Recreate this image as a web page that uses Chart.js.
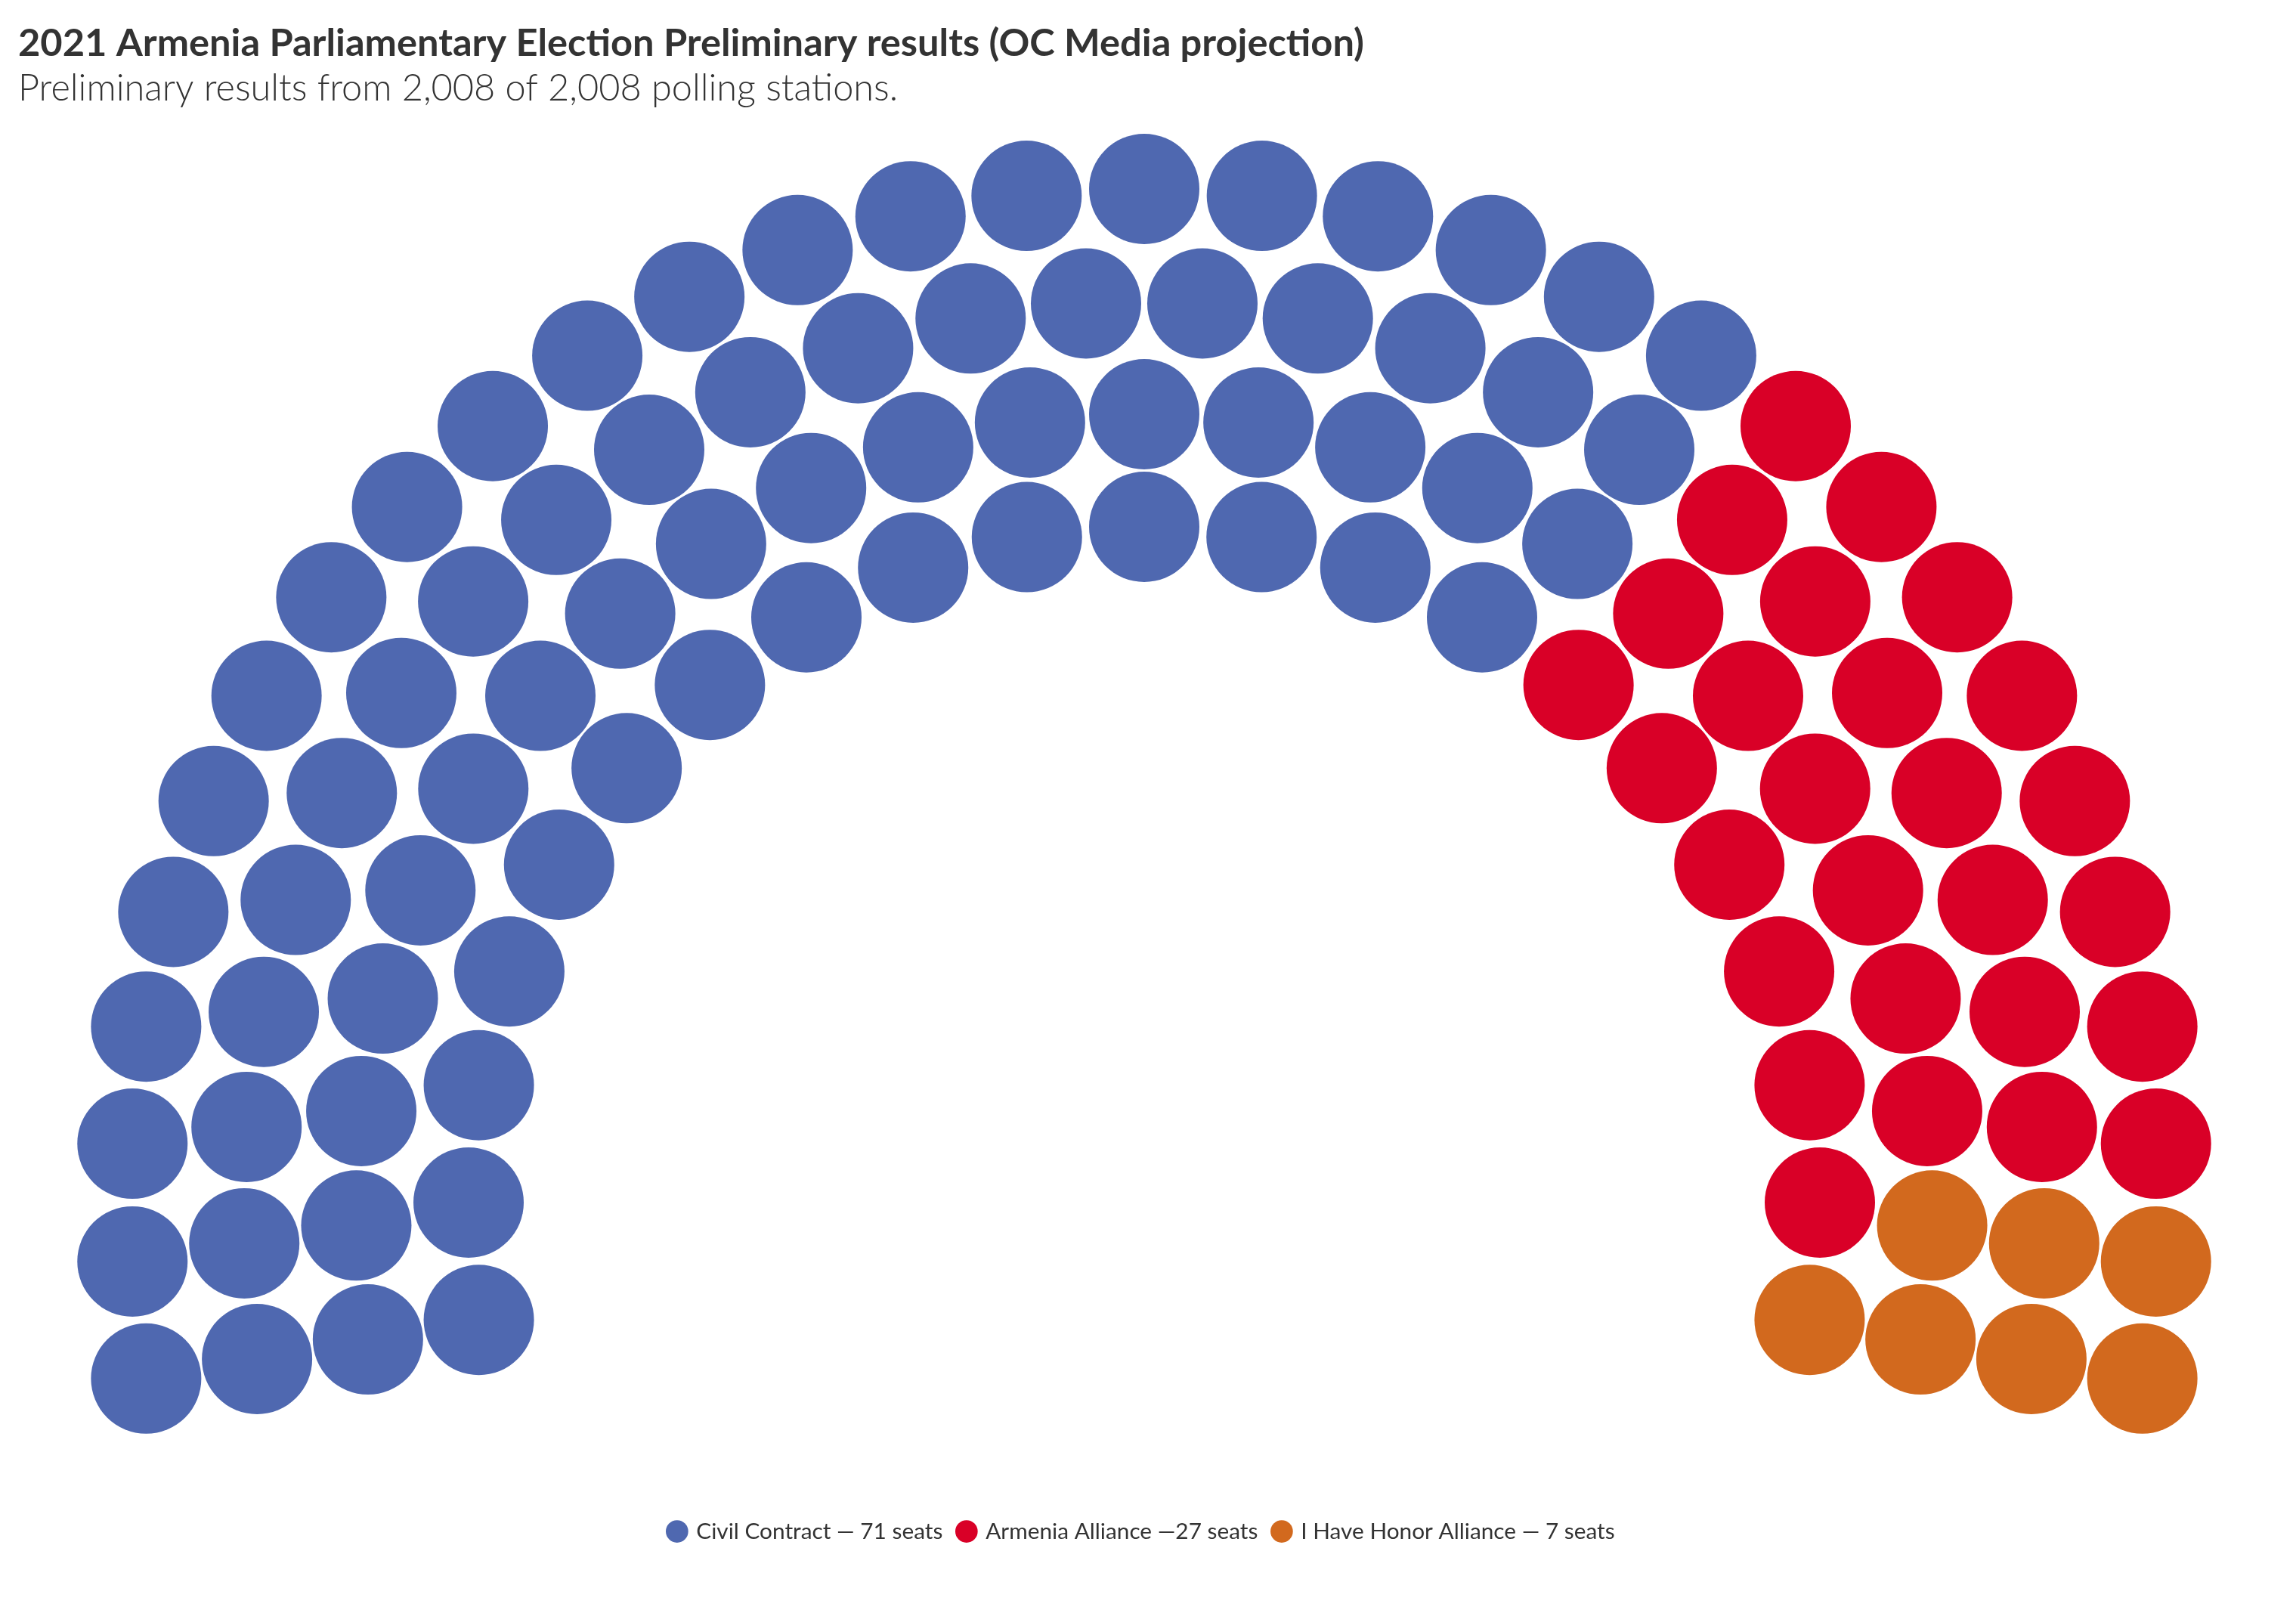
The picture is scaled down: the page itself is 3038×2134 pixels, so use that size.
<!DOCTYPE html>
<html lang="en">

<head>
    <meta charset="UTF-8">
    <title>2021 Armenia Parliamentary Election</title>
    <script src="https://cdn.jsdelivr.net/npm/chart.js"></script>
    <style>
        html, body { margin: 0; padding: 0; background: #fff; }
        .wrap { width: 100vw; height: 100vh; }
    </style>
</head>

<body>
    <div class="wrap">
        <canvas id="seatChart"></canvas>
    </div>

    <script>
        // Data
        const parties = ['Civil Contract', 'Armenia Alliance', 'I Have Honor Alliance'];
        const seats = [71, 27, 7];
        const legendText = ['Civil Contract — 71 seats', 'Armenia Alliance —27 seats', 'I Have Honor Alliance — 7 seats'];
        const colors = ['#4f68b0', '#d90027', '#d2691e'];

        // Hemicycle layout (inner row first)
        const rowSeats = [21, 25, 28, 31];
        const rowRadius = [894, 1043, 1192, 1341];
        const arcFrom = 190, arcTo = -10;   // degrees, left to right
        const centerX = 1514, centerY = 1591;
        const seatRadius = 73;

        // every seat of every row, then ordered left to right by angle
        const places = [];
        rowSeats.forEach(function (n, row) {
            for (let k = 0; k < n; k++) {
                const a = arcFrom + (arcTo - arcFrom) * k / (n - 1);
                places.push({ angle: a, r: rowRadius[row] });
            }
        });
        places.sort(function (a, b) { return b.angle - a.angle; });

        let next = 0;
        const datasets = parties.map(function (name, i) {
            const pts = places.slice(next, next + seats[i]).map(function (p) {
                const rad = p.angle * Math.PI / 180;
                return { x: p.r * Math.cos(rad), y: p.r * Math.sin(rad) };
            });
            next += seats[i];
            return {
                label: legendText[i],
                data: pts,
                backgroundColor: colors[i],
                pointRadius: seatRadius,
                pointHoverRadius: seatRadius,
                pointBorderWidth: 0,
                clip: false
            };
        });

        const font = 'Lato, "Noto Sans", sans-serif';

        const ctx = document.getElementById('seatChart').getContext('2d');
        const chart = new Chart(ctx, {
            type: 'scatter',
            data: { datasets: datasets },
            options: {
                responsive: true,
                maintainAspectRatio: false,
                animation: false,
                layout: { padding: { left: 24, right: 40, top: 0, bottom: 83 } },
                scales: {
                    x: { type: 'linear', display: false, bounds: 'data', min: -1500, max: 1500 },
                    y: { type: 'linear', display: false, bounds: 'data', min: -500, max: 1500 }
                },
                plugins: {
                    title: {
                        display: true,
                        text: '2021 Armenia Parliamentary Election Preliminary results (OC Media projection)',
                        align: 'start',
                        color: '#333',
                        font: { family: font, size: 50.6, weight: 'bold' },
                        padding: { top: 27, bottom: 0 }
                    },
                    subtitle: {
                        display: true,
                        text: 'Preliminary results from 2,008 of 2,008 polling stations.',
                        align: 'start',
                        color: '#333',
                        font: { family: font, size: 48.7, weight: 300 },
                        padding: { top: 0, bottom: 0 }
                    },
                    legend: {
                        position: 'bottom',
                        labels: {
                            usePointStyle: true,
                            pointStyle: 'circle',
                            boxWidth: 21,
                            boxHeight: 21,
                            padding: 21,
                            color: '#333',
                            font: { family: font, size: 29.8 }
                        }
                    },
                    tooltip: { enabled: false }
                }
            }
        });

        // line the scales up with the canvas so one unit is one pixel
        const area = chart.chartArea;
        chart.options.scales.x.min = area.left - centerX;
        chart.options.scales.x.max = area.right - centerX;
        chart.options.scales.y.min = centerY - area.bottom;
        chart.options.scales.y.max = centerY - area.top;
        chart.update();
    </script>
</body>

</html>
